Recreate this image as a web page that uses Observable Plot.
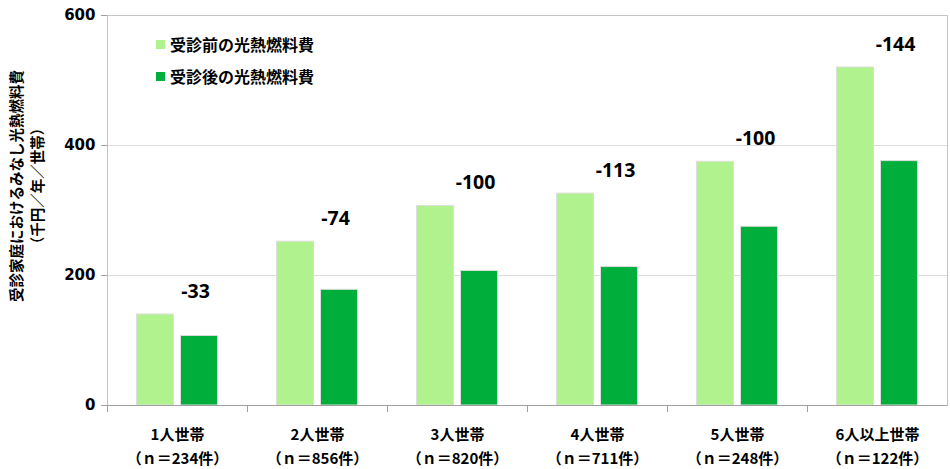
<!DOCTYPE html>
<html><head><meta charset="utf-8">
<script src="https://cdn.jsdelivr.net/npm/d3@7"></script>
<script src="https://cdn.jsdelivr.net/npm/@observablehq/plot@0.6"></script>
<style>
body{margin:0;background:#fff;}
#wrap{position:relative;width:950px;height:469px;font-family:"Noto Sans CJK JP",sans-serif;}
#wrap svg{position:absolute;left:0;top:0;}
.leg{position:absolute;left:156px;font-size:16px;font-weight:bold;color:#000;line-height:16px;display:flex;align-items:center;white-space:nowrap;}
.leg i{display:inline-block;width:9px;height:9px;margin-right:5px;}
#ylab{position:absolute;left:26px;top:186px;transform:translate(-50%,-50%) rotate(-90deg);font-size:14.5px;font-weight:bold;text-align:center;white-space:nowrap;line-height:21px;}
</style></head>
<body><div id="wrap"></div>
<script>
const categories = ["1人世帯","2人世帯","3人世帯","4人世帯","5人世帯","6人以上世帯"];
const counts = ["234","856","820","711","248","122"];
const before = [140,252,307,326,375,520];
const after = [107,178,207,213,275,376];
const diffs = ["-33","-74","-100","-113","-100","-144"];
const seriesNames = ["受診前の光熱燃料費","受診後の光熱燃料費"];
const colors = ["#b0f28e","#00ae3c"];
const yTicks = [0,200,400,600];
const yLabel = ["受診家庭におけるみなし光熱燃料費","（千円／年／世帯）"];

const rows = categories.map((c,i)=>({c, n: counts[i], before: before[i], after: after[i], diff: diffs[i]}));

const cjk = "Noto Sans CJK JP";
const plot = Plot.plot({
  width: 950, height: 469,
  marginLeft: 107, marginRight: 3, marginTop: 15, marginBottom: 64,
  x: {type: "band", domain: categories, padding: 0},
  y: {domain: [0,600]},
  style: {background: "#fff"},
  marks: [
    Plot.ruleY([200,400], {stroke: "#dcdcdc"}),
    Plot.frame({stroke: "#c4c4c4"}),
    Plot.barY(rows, {x: "c", y: "before", fill: colors[0], stroke: "#dedede", strokeWidth: 1, insetLeft: 29.5, insetRight: 73.5}),
    Plot.barY(rows, {x: "c", y: "after", fill: colors[1], stroke: "#dedede", strokeWidth: 1, insetLeft: 73.5, insetRight: 29.5}),
    Plot.ruleY([0], {stroke: "#a0a0a0"}),
    Plot.axisY({ticks: yTicks, tickSize: 6, tickPadding: 6, stroke: "#a0a0a0", fontSize: 15, fontWeight: "bold", fontFamily: "DejaVu Sans", fill: "#000", label: null, line: true}),
    Plot.axisX({tickSize: 7, dx: -70, stroke: "#a0a0a0", tickFormat: () => "", label: null}),
    Plot.text(rows, {x: "c", frameAnchor: "bottom", text: d => d.c + "\n（ｎ＝" + d.n + "件）", dy: 17, lineAnchor: "top", lineHeight: 1.6, fontSize: 15, fontWeight: "bold", fontFamily: cjk, fill: "#000"}),
    Plot.text(rows, {x: "c", y: "before", text: "diff", dx: 18, dy: -23, lineAnchor: "middle", fontSize: 19.5, fontWeight: "bold", fontFamily: "Open Sans", fill: "#000"})
  ]
});
const wrap = document.getElementById("wrap");
wrap.appendChild(plot);
seriesNames.forEach((s,i)=>{
  const d = document.createElement("div");
  d.className = "leg";
  d.style.top = (36 + i*32) + "px";
  d.innerHTML = `<i style="background:${colors[i]}"></i>${s}`;
  wrap.appendChild(d);
});
const yl = document.createElement("div");
yl.id = "ylab";
yl.innerHTML = yLabel.join("<br>");
wrap.appendChild(yl);
</script></body></html>
